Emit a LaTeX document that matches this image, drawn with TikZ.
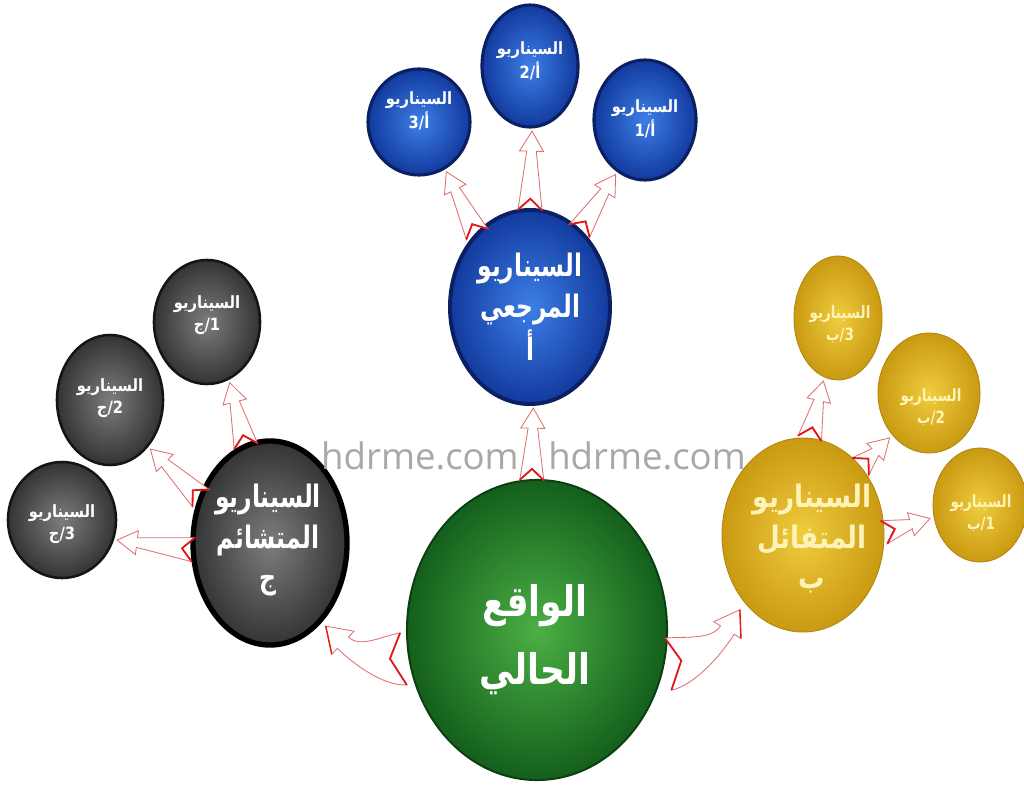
\documentclass[tikz,border=0pt]{standalone}
\usepackage{fontspec}
\usepackage{graphicx}
\usetikzlibrary{shapes.geometric,calc}
\TeXXeTstate=1
\newfontfamily\arabicfont[Script=Arabic]{DejaVu Sans}
\newfontfamily\wmfont{Open Sans}
\definecolor{bluein}{HTML}{3D7FE6}
\definecolor{blueout}{HTML}{123A9E}
\definecolor{bluebd}{HTML}{0B1F63}
\definecolor{greenin}{HTML}{4BB044}
\definecolor{greenout}{HTML}{145F1C}
\definecolor{greenbd}{HTML}{0C3F10}
\definecolor{grayin}{HTML}{7D7D7D}
\definecolor{grayout}{HTML}{343434}
\definecolor{graybd}{HTML}{151515}
\definecolor{yellowin}{HTML}{F0CC3E}
\definecolor{yellowout}{HTML}{C99A12}
\definecolor{yellowbd}{HTML}{B08510}
\definecolor{arrline}{HTML}{E07070}
\definecolor{arrtail}{HTML}{E01818}
\definecolor{ytext}{HTML}{FFF3B8}
\definecolor{wmgray}{HTML}{A8A8A8}
\newcommand\sq[2]{\scalebox{#1}[1]{\begin{tabular}{@{}c@{}}#2\end{tabular}}}
\tikzset{
  ell/.style 2 args={ellipse, minimum width=#1*0.05cm, minimum height=#2*0.05cm, inner sep=0pt, outer sep=0pt},
  bluenode/.style={shade, shading=radial, inner color=bluein, outer color=blueout, draw=bluebd, line width=2.2pt},
  bluemain/.style={bluenode, line width=2.8pt},
  greennode/.style={shade, shading=radial, inner color=greenin, outer color=greenout, draw=greenbd, line width=1.4pt},
  graynode/.style={shade, shading=radial, inner color=grayin, outer color=grayout, draw=graybd, line width=1.8pt},
  graymain/.style={graynode, draw=black, line width=3.8pt},
  yellownode/.style={shade, shading=radial, inner color=yellowin, outer color=yellowout, draw=yellowbd, line width=0.6pt},
  bigtxt/.style={text=white, align=center, inner sep=0pt, font=\arabicfont\bfseries\fontsize{30}{48}\selectfont},
  midtxt/.style={text=white, align=center, inner sep=0pt, font=\arabicfont\bfseries\fontsize{22}{29}\selectfont},
  smalltxt/.style={text=white, align=center, inner sep=0pt, font=\arabicfont\bfseries\fontsize{12}{16}\selectfont},
  arrowbody/.style={fill=white, draw=arrline, line width=0.6pt, line join=miter},
  arrowtail/.style={draw=arrtail, line width=1.3pt, line join=miter},
  wm/.style={text=wmgray, inner sep=0pt, font=\wmfont\fontsize{26}{28}\selectfont},
}
% straight notched arrow: #1 from, #2 to, #3 tail half width, #4 notch depth,
% #5 shaft half width, #6 head half width, #7 head length
\newcommand\arrowgen[7]{%
  \coordinate (hs) at (#1);
  \coordinate (hx) at (#2);
  \coordinate (he) at ($(hx)!3pt!(hs)$);
  \coordinate (hb) at ($(he)!#7!(hs)$);
  \coordinate (hn) at ($(hs)!#4!(he)$);
  \filldraw[arrowbody] ($(hs)!#3!90:(he)$) -- ($(hb)!#5!90:(he)$) -- ($(hb)!#6!90:(he)$)
     -- (he) -- ($(hb)!#6!-90:(he)$) -- ($(hb)!#5!-90:(he)$) -- ($(hs)!#3!-90:(he)$) -- (hn) -- cycle;
  \draw[arrowtail] ($(hs)!#3!90:(he)$) -- (hn) -- ($(hs)!#3!-90:(he)$);
}
\newcommand\sarrow[2]{\arrowgen{#1}{#2}{0.3cm}{0.28cm}{0.12cm}{0.3cm}{0.5cm}}
% point in tail frame: name, u (px along), v (px across)
\newcommand\tp[3]{%
  \coordinate (tmp) at ($(hs)!{(#2)*0.025cm}!(he)$);
  \coordinate (#1) at ($(tmp)!{\csgn*(#3)*0.025cm}!90:(he)$);}
% point in head frame: name, a (px back from tip), v (px across)
\newcommand\hp[3]{%
  \coordinate (tmp) at ($(he)!{(#2)*0.025cm}!(hs)$);
  \coordinate (#1) at ($(tmp)!{\csgn*(#3)*0.025cm}!-90:(hs)$);}
% curved notched arrow: #1 from, #2 to, #3 bend side (1 or -1)
\newcommand\curvarrow[3]{%
  \def\csgn{#3}%
  \coordinate (hs0) at (#1);
  \coordinate (he0) at (#2);
  \coordinate (hs) at ($(hs0)!5pt!(he0)$);
  \coordinate (he) at ($(he0)!6pt!(hs0)$);
  \tp{cA}{13.2}{-22.6}\tp{cN}{12.5}{5}\tp{cB}{-13.2}{22.6}
  \tp{c1}{27.9}{-13.9}\tp{c4}{8.4}{33}
  \hp{cW1}{28.1}{-6.3}\hp{cI1}{25.2}{1.2}\hp{cW2}{16.5}{23.5}\hp{cI2}{19.4}{16}
  \hp{c2}{41}{7.3}\hp{c3}{40}{24}
  \filldraw[arrowbody] (cA) .. controls (c1) and (c2) .. (cI1) -- (cW1) -- (he) -- (cW2) -- (cI2)
     .. controls (c3) and (c4) .. (cB) -- (cN) -- cycle;
  \draw[arrowtail] (cA) -- (cN) -- (cB);
  \draw[arrowtail, line width=1pt] (he) -- (cW2);
}

\begin{document}
\begin{tikzpicture}[x=0.025cm, y=-0.025cm]
\fill[white] (0,0) rectangle (1024,788);
\useasboundingbox (0,0) rectangle (1024,788);

% ellipses
\node[ell={130}{150}, greennode] (g) at (537,630) {};
\node[ell={80}{97}, bluemain] (bm) at (530,307) {};
\node[ell={51}{53}, bluenode] (b3) at (419,122) {};
\node[ell={48}{61}, bluenode] (b2) at (530,66) {};
\node[ell={51}{60}, bluenode] (b1) at (645,120) {};
\node[ell={77}{102}, graymain] (km) at (270,543) {};
\node[ell={53}{62}, graynode] (k1) at (207,322) {};
\node[ell={53}{65}, graynode] (k2) at (110,400) {};
\node[ell={54}{58}, graynode] (k3) at (62,520) {};
\node[ell={81}{97}, yellownode] (ym) at (803,535) {};
\node[ell={44}{62}, yellownode] (y3) at (838,318) {};
\node[ell={51}{60}, yellownode] (y2) at (929,393) {};
\node[ell={47}{57}, yellownode] (y1) at (980,505) {};

% texts
\node[bigtxt] (g-t) at (535,637) {\sq{0.82}{\beginR الواقع\endR\\\beginR الحالي\endR}};
\node[midtxt] (bm-t) at (530,310) {\sq{0.75}{\beginR السيناريو\endR\\\beginR المرجعي\endR\\أ}};
\node[midtxt] (km-t) at (268,540) {\sq{0.76}{\beginR السيناريو\endR\\\beginR المتشائم\endR\\ج}};
\node[midtxt, text=ytext] (ym-t) at (812,540) {\sq{0.85}{\beginR السيناريو\endR\\\beginR المتفائل\endR\\ب}};
\node[smalltxt] (b3-t) at (419,112) {\sq{0.87}{\beginR السيناريو\endR\\3\kern0pt/\kern0pt أ}};
\node[smalltxt] (b2-t) at (530,62) {\sq{0.87}{\beginR السيناريو\endR\\2\kern0pt/\kern0pt أ}};
\node[smalltxt] (b1-t) at (645,120) {\sq{0.87}{\beginR السيناريو\endR\\1\kern0pt/\kern0pt أ}};
\node[smalltxt] (k1-t) at (207,315) {\sq{0.87}{\beginR السيناريو\endR\\ج\kern0pt/\kern0pt 1}};
\node[smalltxt] (k2-t) at (110,398) {\sq{0.87}{\beginR السيناريو\endR\\ج\kern0pt/\kern0pt 2}};
\node[smalltxt] (k3-t) at (62,524) {\sq{0.87}{\beginR السيناريو\endR\\ج\kern0pt/\kern0pt 3}};
\node[smalltxt, text=ytext] (y3-t) at (840,325) {\sq{0.8}{\beginR السيناريو\endR\\ب\kern0pt/\kern0pt 3}};
\node[smalltxt, text=ytext] (y2-t) at (931,408) {\sq{0.8}{\beginR السيناريو\endR\\ب\kern0pt/\kern0pt 2}};
\node[smalltxt, text=ytext] (y1-t) at (981,514) {\sq{0.8}{\beginR السيناريو\endR\\ب\kern0pt/\kern0pt 1}};

% arrows
\sarrow{g.92}{bm.-88}
\curvarrow{g.194}{km.-59}{1}
\curvarrow{g.-17}{ym.-129}{-1}
\sarrow{bm.126}{b3.-61}
\sarrow{bm.90}{b2.-88}
\sarrow{bm.57}{b1.-118}
\sarrow{km.104}{k1.-69}
\sarrow{km.147}{k2.-51}
\sarrow{km.185}{k3.-21}
\sarrow{ym.86}{y3.-103}
\sarrow{ym.50}{y2.-131}
\sarrow{ym.2}{y1.-165}

% watermark
\node[wm] (wm1) at (420,456) {hdrme.com};
\node[wm] (wm2) at (647,456) {hdrme.com};
\end{tikzpicture}
\end{document}
